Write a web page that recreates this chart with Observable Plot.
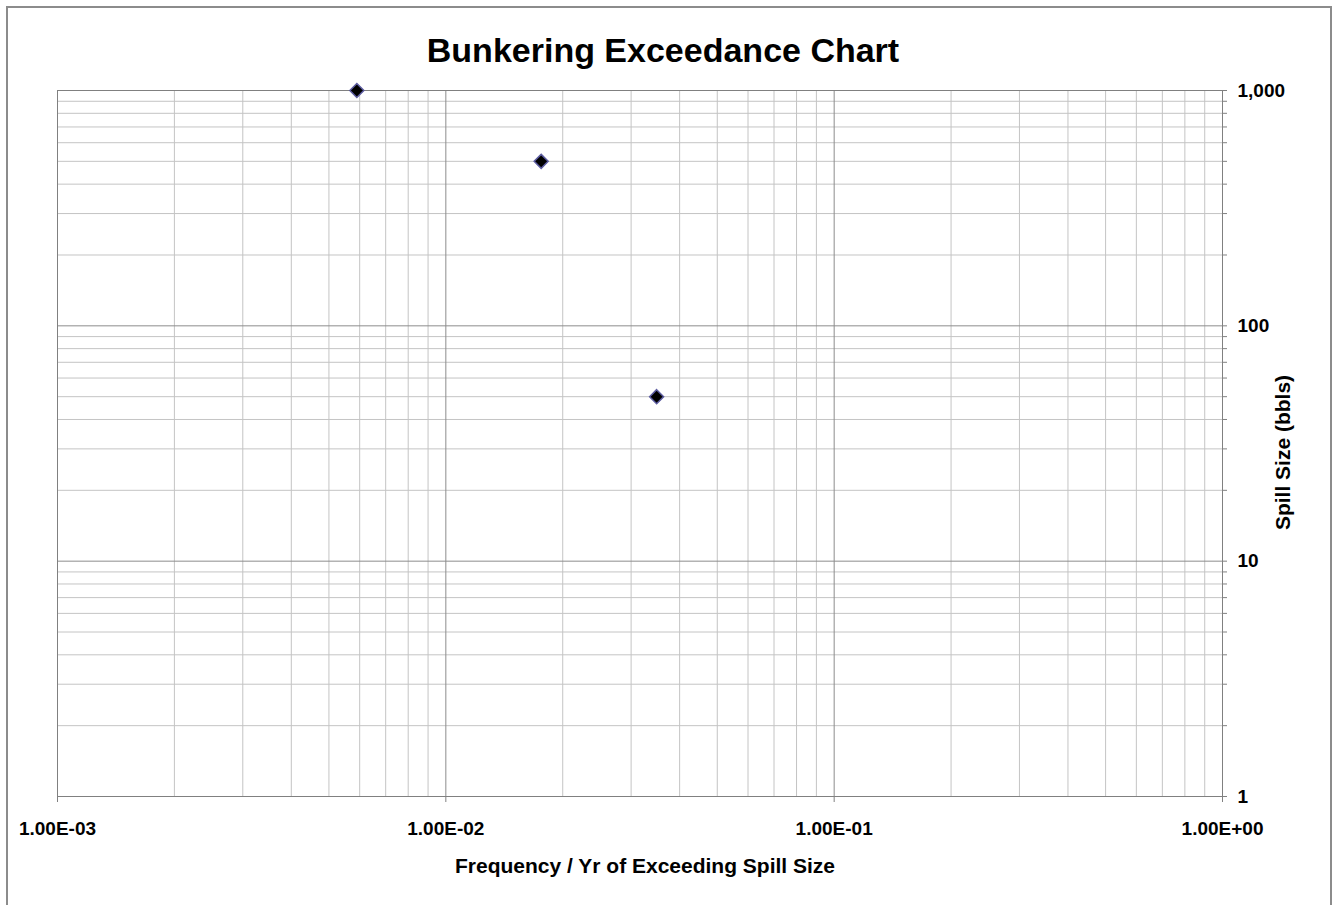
<!DOCTYPE html>
<html>
<head>
<meta charset="utf-8">
<script src="https://cdn.jsdelivr.net/npm/d3@7"></script>
<script src="https://cdn.jsdelivr.net/npm/@observablehq/plot@0.6"></script>
<style>
  html, body { margin: 0; padding: 0; background: #fff; }
  #chart { position: relative; width: 1336px; height: 905px; overflow: hidden; background: #fff;
           font-family: "Liberation Sans", Arial, sans-serif; }
  #border { position: absolute; left: 6px; top: 6px; width: 1326px; height: 920px;
            border: 2px solid #8c8c8c; box-sizing: border-box; }
  #title { position: relative; height: 80px; box-sizing: border-box; padding-top: 30px;
           padding-right: 10px; line-height: 40px; font-size: 34px; font-weight: bold;
           text-align: center; color: #000; }
  #plot { position: relative; }
</style>
</head>
<body>
<div id="chart">
  <div id="border"></div>
  <div id="title">Bunkering Exceedance Chart</div>
  <div id="plot"></div>
</div>
<script>
// Exceedance points: annual frequency vs spill size (bbls)
const frequency = [0.0059, 0.0176, 0.0349];
const spillSize = [1000, 500, 50];

// Axis ticks and their labels
const xTicks = [0.001, 0.01, 0.1, 1];
const xTickLabels = ["1.00E-03", "1.00E-02", "1.00E-01", "1.00E+00"];
const yTicks = [1, 10, 100, 1000];
const yTickLabels = ["1", "10", "100", "1,000"];

const xTitle = "Frequency / Yr of Exceeding Spill Size";
const yTitle = "Spill Size (bbls)";

// Minor gridlines at 2..9 of each decade
const minorMultipliers = [2, 3, 4, 5, 6, 7, 8, 9];
const xMinor = xTicks.slice(0, -1).flatMap(d => minorMultipliers.map(m => d * m));
const yMinor = yTicks.slice(0, -1).flatMap(d => minorMultipliers.map(m => d * m));

const points = frequency.map((f, i) => ({frequency: f, spill: spillSize[i]}));

const chart = Plot.plot({
  width: 1336,
  height: 825,
  marginTop: 10,
  marginBottom: 109,
  marginLeft: 57,
  marginRight: 114,
  style: {fontFamily: "'Liberation Sans', Arial, sans-serif", fontSize: "19px", fontWeight: "bold", color: "#000", background: "transparent", overflow: "visible"},
  x: {type: "log", domain: [0.001, 1], axis: null},
  y: {type: "log", domain: [1, 1000], axis: null},
  marks: [
    Plot.ruleX(xMinor, {stroke: "#c4c4c4", strokeWidth: 1}),
    Plot.ruleY(yMinor, {stroke: "#c4c4c4", strokeWidth: 1}),
    Plot.ruleX(xTicks, {stroke: "#8c8c8c", strokeWidth: 1}),
    Plot.ruleY(yTicks, {stroke: "#8c8c8c", strokeWidth: 1}),
    Plot.frame({stroke: "#808080", strokeWidth: 1}),
    Plot.axisX({
      ticks: xTicks, tickSize: 6, tickPadding: 19, stroke: "#808080",
      tickFormat: d => xTickLabels[xTicks.indexOf(d)], label: null
    }),
    // short outward ticks along the right edge
    Plot.axisY({
      anchor: "right", ticks: yMinor.concat(yTicks), tickSize: 4, stroke: "#808080",
      tickFormat: () => "", label: null
    }),
    Plot.axisY({
      anchor: "right", ticks: yTicks, tickSize: 0, tickPadding: 15,
      tickFormat: d => yTickLabels[yTicks.indexOf(d)], label: null
    }),
    Plot.dot(points, {
      x: "frequency", y: "spill", symbol: "diamond2", r: 6.3,
      fill: "#000", stroke: "#5c5ca0", strokeWidth: 1.5
    }),
    Plot.text([xTitle], {
      frameAnchor: "bottom", lineAnchor: "middle", dy: 70, dx: 5,
      fontSize: 21, fontWeight: "bold", fill: "#000"
    }),
    Plot.text([yTitle], {
      frameAnchor: "right", textAnchor: "middle", dx: 61, dy: 9, rotate: -90,
      fontSize: 21, fontWeight: "bold", fill: "#000"
    })
  ]
});
document.getElementById("plot").appendChild(chart);
</script>
</body>
</html>
